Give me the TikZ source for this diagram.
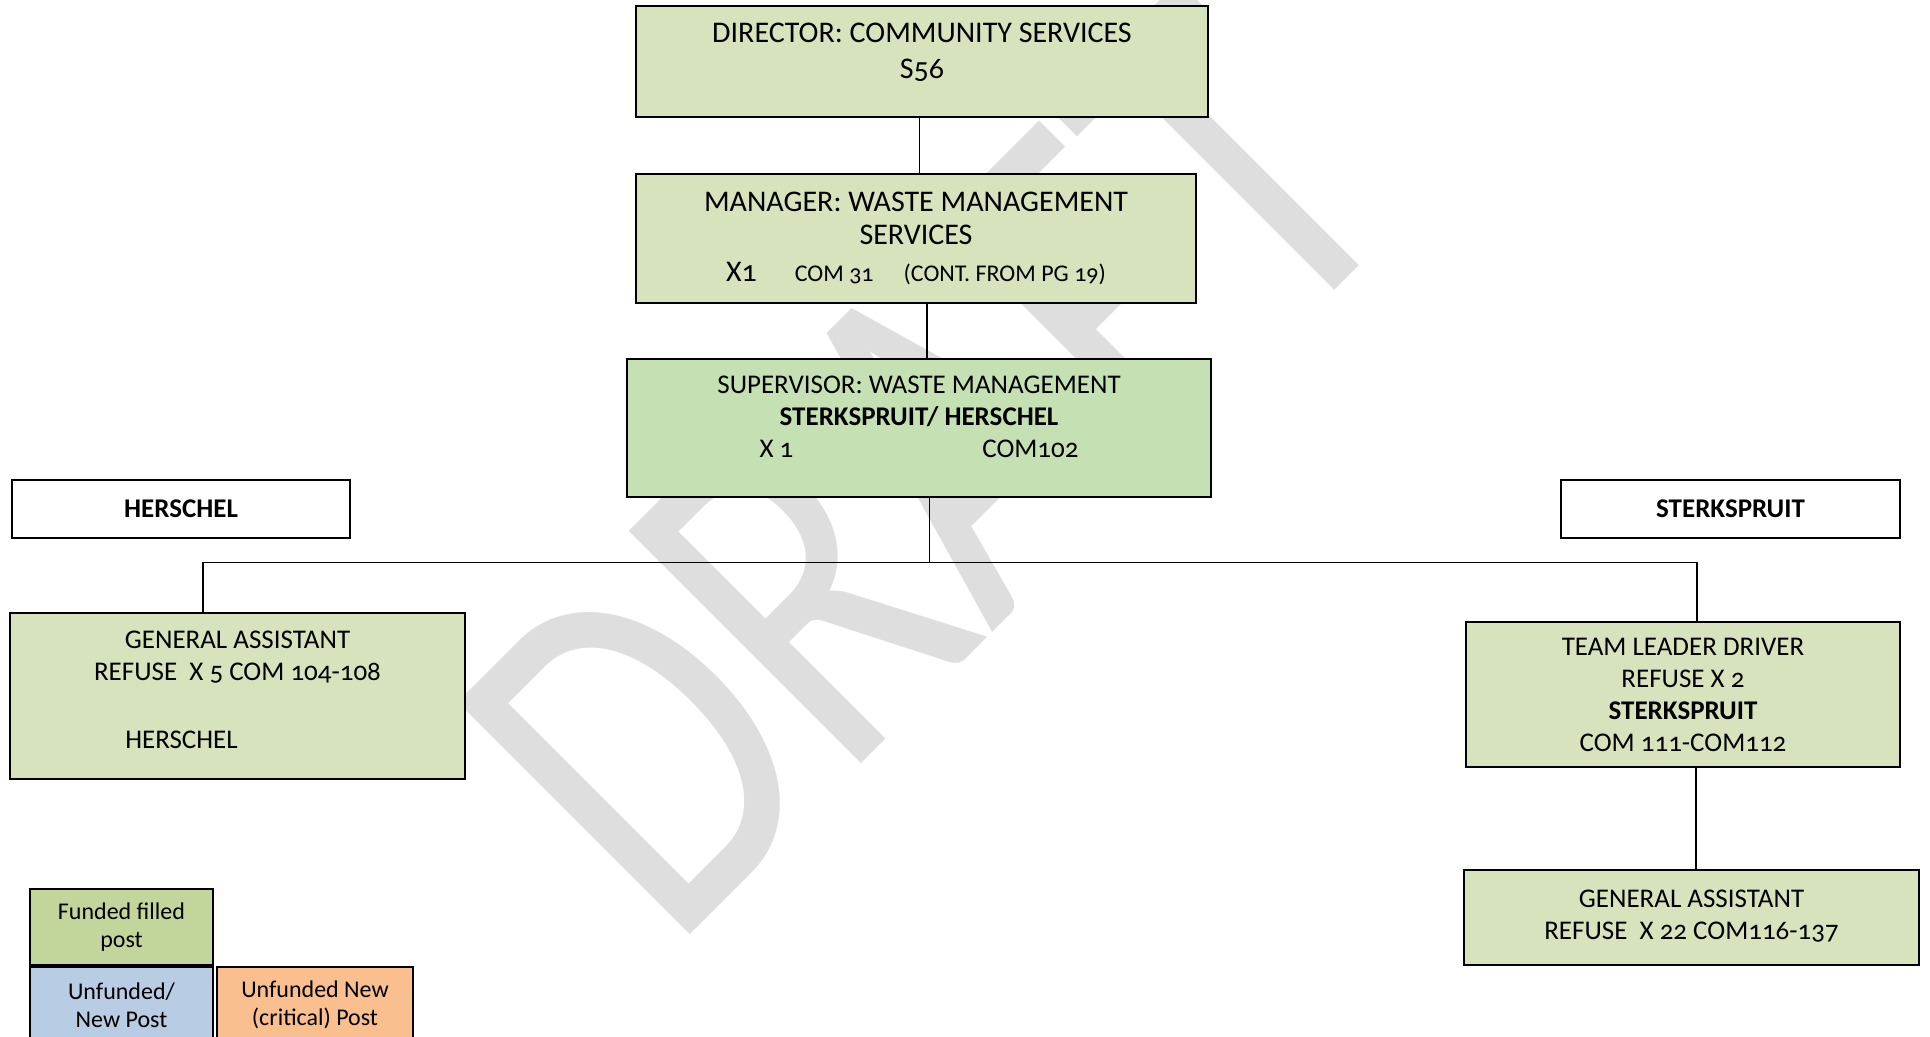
\documentclass[tikz,border=0pt]{standalone}
\usepackage{fontspec}
\setmainfont{Carlito}[Numbers=OldStyle]
\usepackage{tikz}
\usetikzlibrary{positioning}
\usetikzlibrary{backgrounds}
\definecolor{postcolor}{RGB}{214, 227, 188}
\definecolor{supcolor}{RGB}{197, 224, 179}
\definecolor{fundedcolor}{RGB}{194, 214, 155}
\definecolor{unfundedcolor}{RGB}{184, 204, 228}
\definecolor{criticalcolor}{RGB}{250, 191, 143}
\definecolor{draftcolor}{RGB}{222, 222, 222}
\tikzstyle{post} = [
	draw=black,
	line width=1pt,
	fill=postcolor,
	align=center,
	inner sep=0pt,
	font=\fontsize{13.5}{16}\selectfont,
]
\tikzstyle{area} = [
	draw=black,
	line width=0.9pt,
	fill=white,
	minimum width=169pt,
	minimum height=29pt,
	font=\fontsize{13.5}{16}\selectfont\bfseries,
]
\tikzstyle{legend} = [
	draw=black,
	line width=1pt,
	align=center,
	minimum width=91.5pt,
	minimum height=38pt,
	inner sep=0pt,
	font=\fontsize{12}{14}\selectfont,
]
\tikzstyle{link} = [
	line width=0.8pt,
]

\begin{document}
\begin{tikzpicture}[x=0.5pt, y=-0.5pt, node distance=0pt and 1pt]
	\useasboundingbox (0,0) rectangle (1930,1037);

	%
	% Management line
	\node[post, minimum width=286pt, minimum height=55.5pt, font=\fontsize{15}{18}\selectfont] at (922,61.5) (dir) {DIRECTOR: COMMUNITY SERVICES\\S56\\[-7.5pt]\mbox{}};
	\node[post, minimum width=280pt, minimum height=64.5pt, font=\fontsize{15}{16.5}\selectfont] at (916,238.5) (man) {MANAGER: WASTE MANAGEMENT\\SERVICES\\[2pt]X1\hspace{19pt}{\fontsize{12}{14}\selectfont COM 31\hspace{15pt}(CONT. FROM PG 19)}};
	\node[post, fill=supcolor, minimum width=292pt, minimum height=69pt] at (919,428) (sup) {SUPERVISOR: WASTE MANAGEMENT\\\textbf{STERKSPRUIT/ HERSCHEL}\\X 1\hspace{94.5pt}COM102\\[-5pt]\mbox{}};

	%
	% Areas
	\node[area] at (181,509) (herschel) {HERSCHEL};
	\node[area, minimum width=169.5pt] at (1730.5,509) (sterkspruit) {STERKSPRUIT};

	%
	% Posts under the supervisor
	\node[post, minimum width=227.5pt, minimum height=83pt] at (237.5,696) (gaH) {GENERAL ASSISTANT\\REFUSE\ \ X 5\ COM 104-108\\[18pt]HERSCHEL\hspace*{56pt}\mbox{}\\[-10pt]\mbox{}};
	\node[post, minimum width=217pt, minimum height=72.5pt] at (1683,694.5) (tld) {TEAM LEADER DRIVER\\REFUSE X 2\\\textbf{STERKSPRUIT}\\COM 111-COM112};
	\node[post, minimum width=227.5pt, minimum height=47.5pt] at (1691.5,917.5) (gaS) {GENERAL ASSISTANT\\REFUSE\ \ X 22 COM116-137\\[-13pt]\mbox{}};

	%
	% Legend
	\node[legend, fill=fundedcolor] at (121.5,927) (funded) {Funded filled\\post};
	\node[legend, fill=unfundedcolor, below=of funded] (unfunded) {Unfunded/\\New Post};
	\node[legend, fill=criticalcolor, minimum width=98pt, right=of unfunded] (critical) {Unfunded New\\(critical) Post};

	%
	% Lines
	\coordinate (bus) at (929.5,562.5);
	\draw[link] ([xshift=-1.25pt]dir.south) -- ([xshift=1.75pt]man.north);
	\draw[link] ([xshift=5.5pt]man.south) -- ([xshift=4pt]sup.north);
	\draw[link] ([xshift=5.25pt]sup.south) -- (bus);
	\draw[link] ([xshift=-17.25pt]gaH.north) |- (bus);
	\draw[link] ([xshift=7pt]tld.north) |- (bus);
	\draw[link] ([xshift=6.5pt]tld.south) -- ([xshift=2.25pt]gaS.north);

	%
	% Watermark
	\begin{scope}[on background layer]
		\node[rotate=45, xscale=0.765, anchor=base west, inner sep=0pt, text=draftcolor, font=\fontsize{256}{256}\selectfont] at (671,954) (draft) {DRAFT};
	\end{scope}
\end{tikzpicture}
\end{document}
